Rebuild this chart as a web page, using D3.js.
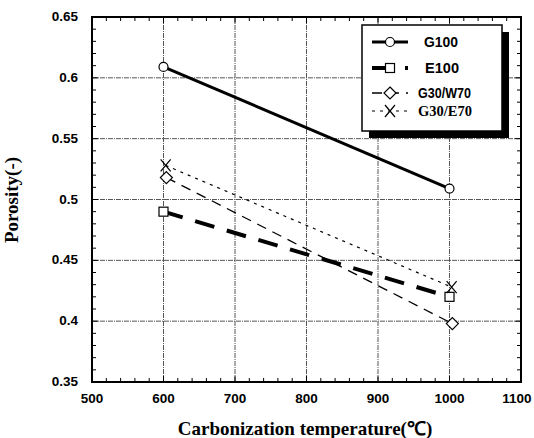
<!DOCTYPE html>
<html lang="en">
<head>
<meta charset="UTF-8">
<title>Porosity</title>
<script src="https://d3js.org/d3.v7.min.js"></script>
<style>
    body { margin: 0; background: #fff; }
    .tick-label { font-family: 'Liberation Sans', Arial, sans-serif; font-weight: bold; font-size: 13.5px; }
    .title { font-family: 'Liberation Serif', 'Times New Roman', serif; font-weight: bold; font-size: 19px; }
</style>
</head>
<body>
<script>
    // data
    const xTicks = [500, 600, 700, 800, 900, 1000, 1100];
    const yTicks = [0.35, 0.4, 0.45, 0.5, 0.55, 0.6, 0.65];
    const yTickLabels = ["0.35", "0.4", "0.45", "0.5", "0.55", "0.6", "0.65"];

    const seriesNames = ["G100", "E100", "G30/W70", "G30/E70"];
    const tempG100 = [600, 1000];
    const g100 = [0.609, 0.509];
    const tempE100 = [600, 1000];
    const e100 = [0.490, 0.420];
    const tempW70 = [604, 1004];
    const g30w70 = [0.518, 0.398];
    const tempE70 = [603, 1003];
    const g30e70 = [0.528, 0.428];

    const W = 534, H = 438;
    const pLeft = 92, pRight = 521, pTop = 17, pBottom = 382;

    const x = d3.scaleLinear().domain([500, 1100]).range([pLeft, pRight]);
    const y = d3.scaleLinear().domain([0.35, 0.65]).range([pBottom, pTop]);

    const svg = d3.select("body").append("svg").attr("width", W).attr("height", H);

    // grid
    svg.append("g").selectAll("line").data(xTicks.slice(1, -1)).join("line")
        .attr("x1", d => x(d)).attr("x2", d => x(d))
        .attr("y1", pTop).attr("y2", pBottom)
        .attr("stroke", "#555").attr("stroke-width", 1).attr("stroke-dasharray", "5,1,1,1");
    svg.append("g").selectAll("line").data(yTicks.slice(1, -1)).join("line")
        .attr("x1", pLeft).attr("x2", pRight)
        .attr("y1", d => y(d)).attr("y2", d => y(d))
        .attr("stroke", "#555").attr("stroke-width", 1).attr("stroke-dasharray", "5,1,1,1");

    // minor ticks, inward, on all four sides
    const xMinor = d3.range(500, 1101, 20);
    const yMinor = d3.range(0, 31).map(i => 0.35 + i * 0.01);
    const tk = svg.append("g").attr("stroke", "#000").attr("stroke-width", 1);
    xMinor.forEach(v => {
        const len = xTicks.includes(v) ? 6 : 4;
        tk.append("line").attr("x1", x(v)).attr("x2", x(v)).attr("y1", pBottom).attr("y2", pBottom - len);
        tk.append("line").attr("x1", x(v)).attr("x2", x(v)).attr("y1", pTop).attr("y2", pTop + len);
    });
    yMinor.forEach((v, i) => {
        const len = i % 5 === 0 ? 6 : 4;
        tk.append("line").attr("x1", pLeft).attr("x2", pLeft + len).attr("y1", y(v)).attr("y2", y(v));
        tk.append("line").attr("x1", pRight).attr("x2", pRight - len).attr("y1", y(v)).attr("y2", y(v));
    });

    // frame
    svg.append("rect").attr("x", pLeft).attr("y", pTop)
        .attr("width", pRight - pLeft).attr("height", pBottom - pTop)
        .attr("fill", "none").attr("stroke", "#000").attr("stroke-width", 2);

    // tick labels (last one kept inside the window)
    svg.append("g").selectAll("text").data(xTicks).join("text")
        .attr("class", "tick-label")
        .attr("x", d => Math.min(x(d), W - 17)).attr("y", 403)
        .attr("text-anchor", "middle")
        .text(d => d);
    svg.append("g").selectAll("text").data(yTicks).join("text")
        .attr("class", "tick-label")
        .attr("x", 78).attr("y", d => y(d) + 4)
        .attr("text-anchor", "end")
        .text((d, i) => yTickLabels[i]);

    // axis titles
    const xt = svg.append("text").attr("class", "title")
        .attr("x", 305).attr("y", 435).attr("text-anchor", "middle");
    xt.append("tspan").text("Carbonization temperature(");
    xt.append("tspan").style("font-family", "'Liberation Sans', Arial, sans-serif").text("\u2103");
    xt.append("tspan").text(")");

    svg.append("text").attr("class", "title")
        .attr("transform", "translate(18,200) rotate(-90)")
        .attr("text-anchor", "middle")
        .text("Porosity(-)");

    // series
    const styles = [
        {xs: tempG100, ys: g100, width: 3, dash: null, marker: "circle"},
        {xs: tempE100, ys: e100, width: 4, dash: "20,13", marker: "square"},
        {xs: tempW70, ys: g30w70, width: 1.3, dash: "10,7", marker: "diamond"},
        {xs: tempE70, ys: g30e70, width: 1.2, dash: "3,5", marker: "cross"}
    ];

    const line = d3.line().x(d => x(d[0])).y(d => y(d[1]));

    function drawMarker(g, type, cx, cy) {
        if (type === "circle") {
            g.append("circle").attr("cx", cx).attr("cy", cy).attr("r", 4.5)
                .attr("fill", "#fff").attr("stroke", "#000").attr("stroke-width", 1.2);
        } else if (type === "square") {
            g.append("rect").attr("x", cx - 4.5).attr("y", cy - 4.5).attr("width", 9).attr("height", 9)
                .attr("fill", "#fff").attr("stroke", "#000").attr("stroke-width", 1.2);
        } else if (type === "diamond") {
            g.append("path").attr("d", `M${cx},${cy - 6}L${cx + 6},${cy}L${cx},${cy + 6}L${cx - 6},${cy}Z`)
                .attr("fill", "#fff").attr("stroke", "#000").attr("stroke-width", 1.2);
        } else {
            g.append("path").attr("d", `M${cx - 5},${cy - 6}L${cx + 5},${cy + 6}M${cx - 5},${cy + 6}L${cx + 5},${cy - 6}`)
                .attr("fill", "none").attr("stroke", "#000").attr("stroke-width", 1.2);
        }
    }

    styles.forEach(s => {
        const pts = s.xs.map((v, i) => [v, s.ys[i]]);
        svg.append("path").attr("d", line(pts))
            .attr("fill", "none").attr("stroke", "#000")
            .attr("stroke-width", s.width)
            .attr("stroke-dasharray", s.dash);
        const g = svg.append("g");
        pts.forEach(p => drawMarker(g, s.marker, x(p[0]), y(p[1])));
    });

    // legend
    const lg = svg.append("g");
    lg.append("rect").attr("x", 369).attr("y", 32).attr("width", 140).attr("height", 106).attr("fill", "#000");
    lg.append("rect").attr("x", 362).attr("y", 25).attr("width", 140).attr("height", 106)
        .attr("fill", "#fff").attr("stroke", "#000").attr("stroke-width", 1.5);

    const legendY = [42, 68, 93, 111];
    const legendTextX = [424, 425, 418, 418];
    const legendTextLen = [34, 34, 53, 54];
    const legendSize = [14, 14, 15, 15];
    const legendFonts = [
        "'Liberation Sans', Arial, sans-serif",
        "'Liberation Sans', Arial, sans-serif",
        "'Liberation Sans', Arial, sans-serif",
        "'Liberation Serif', 'Times New Roman', serif"
    ];
    styles.forEach((s, i) => {
        const ly = legendY[i];
        lg.append("line").attr("x1", 372).attr("x2", 408).attr("y1", ly).attr("y2", ly)
            .attr("stroke", "#000").attr("stroke-width", s.width)
            .attr("stroke-dasharray", s.dash);
        drawMarker(lg, s.marker, 390, ly);
        lg.append("text").attr("x", legendTextX[i]).attr("y", ly + 5)
            .attr("textLength", legendTextLen[i]).attr("lengthAdjust", "spacingAndGlyphs")
            .style("font-family", legendFonts[i]).style("font-weight", "bold").style("font-size", legendSize[i] + "px")
            .text(seriesNames[i]);
    });
</script>
</body>
</html>
